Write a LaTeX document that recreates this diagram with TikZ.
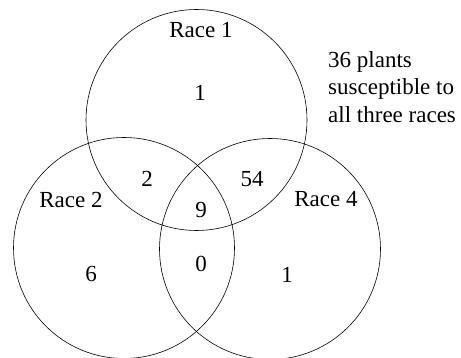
\documentclass[tikz,border=0pt]{standalone}
\usepackage{fontspec}
\setmainfont{Liberation Serif}
\begin{document}
\begin{tikzpicture}[x=1pt,y=-1pt,
  venn/.style={circle,draw=black,line width=0.6pt,minimum size=221pt,inner sep=0pt},
  lbl/.style={font=\fontsize{23}{27.5}\selectfont,inner sep=0pt},
  note/.style={lbl,anchor=base west}]
\useasboundingbox (0,0) rectangle (461,358);
\node[venn] (r1) at (196.5,120) {};
\node[venn] (r2) at (124,248) {};
\node[venn] (r4) at (270,249) {};
\node[lbl] (t1) at (201,30) {Race 1};
\node[lbl] (t2) at (71,200) {Race 2};
\node[lbl] (t4) at (326,199) {Race 4};
\node[lbl] (n1) at (200,93) {1};
\node[lbl] (n12) at (147,179) {2};
\node[lbl] (n14) at (252,179) {54};
\node[lbl] (n124) at (201,210) {9};
\node[lbl] (n2) at (91,274) {6};
\node[lbl] (n24) at (201,264) {0};
\node[lbl] (n4) at (287,275) {1};
\node[note] (a) at (328,67.5) {36 plants};
\node[note] (b) at (328,95) {susceptible to};
\node[note] (c) at (328,122.5) {all three races};
\end{tikzpicture}
\end{document}
